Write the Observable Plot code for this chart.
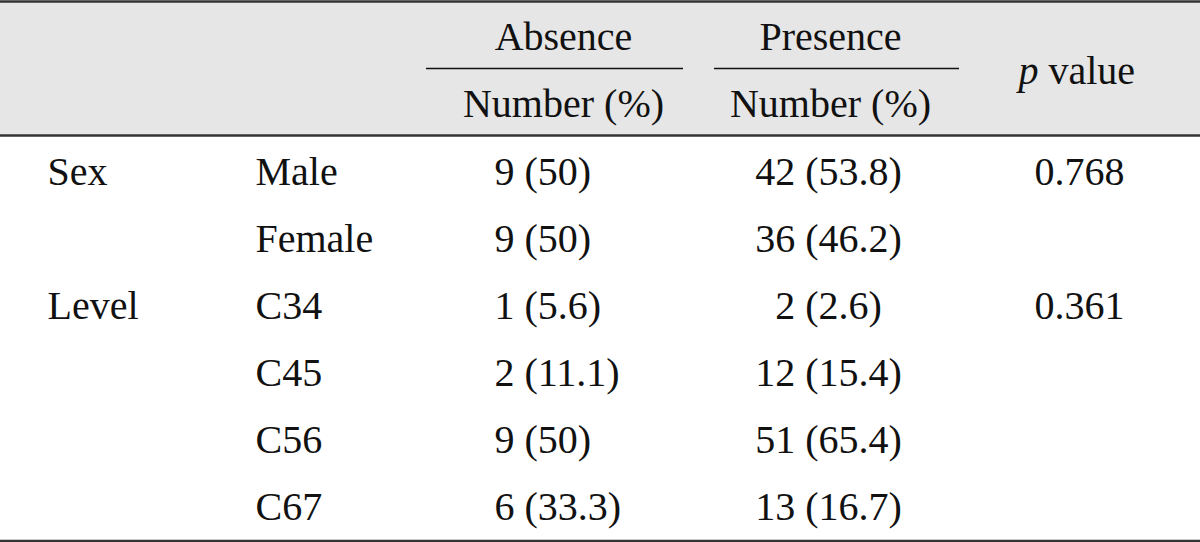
<!DOCTYPE html>
<html>
<head>
<meta charset="utf-8">
<script src="https://cdn.jsdelivr.net/npm/d3@7"></script>
<script src="https://cdn.jsdelivr.net/npm/@observablehq/plot@0.6"></script>
<style>
  html, body { margin: 0; padding: 0; background: #ffffff; }
  #chart svg { display: block; }
  #chart svg text { font-family: "Liberation Serif", "Times New Roman", "DejaVu Serif", serif !important; }
</style>
</head>
<body>
<div id="chart"></div>
<script>
// ---- Table data ----
const groupLabels   = ["Sex", "", "Level", "", "", ""];
const rowLabels     = ["Male", "Female", "C34", "C45", "C56", "C67"];
const absenceN      = [9, 9, 1, 2, 9, 6];
const absencePct    = ["50", "50", "5.6", "11.1", "50", "33.3"];
const presenceN     = [42, 36, 2, 12, 51, 13];
const presencePct   = ["53.8", "46.2", "2.6", "15.4", "65.4", "16.7"];
const pValues       = ["0.768", "", "0.361", "", "", ""];
const groupHeaders  = ["Absence", "Presence"];
const subHeader     = "Number (%)";
const pHeaderItalic = "p";
const pHeaderRest   = "value";

// ---- Layout (column anchors in x units, rows in row units) ----
const colGroup = 47, colLabel = 255, colAbsence = 494, colPresence = 828, colP = 1079;
const headerCenters = [563, 830];
const headerSpans = [[426, 683], [714, 959]];

const body = rowLabels.map((label, i) => ({
  row: i + 2,
  group: groupLabels[i],
  label,
  absence: `${absenceN[i]} (${absencePct[i]})`,
  presence: `${presenceN[i]} (${presencePct[i]})`,
  p: pValues[i]
}));
const headers = groupHeaders.map((h, i) => ({name: h, x: headerCenters[i], x1: headerSpans[i][0], x2: headerSpans[i][1]}));

const ff = "Liberation Serif, Times New Roman, DejaVu Serif, serif";
const fs = 40;
const T = {fontSize: fs, fontFamily: ff, fill: "#111"};

const chart = Plot.plot({
  width: 1200,
  height: 542,
  margin: 0,
  x: {type: "linear", domain: [0, 1200], range: [0, 1200], axis: null},
  y: {type: "linear", domain: [-0.551, 7.521], range: [0, 542], axis: null},
  style: {background: "#ffffff", color: "#111"},
  marks: [
    Plot.rect([0], {x1: 0, x2: 1200, y1: -0.53, y2: 1.46, fill: "#e6e6e6"}),
    Plot.ruleY([-0.535, 1.46, 7.5], {x1: 0, x2: 1200, stroke: "#333", strokeWidth: 2.5}),
    Plot.ruleY(headers, {y: 0.46, x1: "x1", x2: "x2", stroke: "#111", strokeWidth: 1.5}),
    Plot.text(headers, {x: "x", y: 0, text: "name", ...T}),
    Plot.text(headers, {x: "x", y: 1, text: () => subHeader, ...T}),
    Plot.text([0], {x: 1018, y: 0.5, text: () => pHeaderItalic, textAnchor: "start", fontStyle: "italic", ...T}),
    Plot.text([0], {x: 1048, y: 0.5, text: () => pHeaderRest, textAnchor: "start", ...T}),
    Plot.text(body, {x: colGroup, y: "row", text: "group", textAnchor: "start", ...T}),
    Plot.text(body, {x: colLabel, y: "row", text: "label", textAnchor: "start", ...T}),
    Plot.text(body, {x: colAbsence, y: "row", text: "absence", textAnchor: "start", ...T}),
    Plot.text(body, {x: colPresence, y: "row", text: "presence", textAnchor: "middle", ...T}),
    Plot.text(body, {x: colP, y: "row", text: "p", textAnchor: "middle", ...T})
  ]
});
document.getElementById("chart").appendChild(chart);
</script>
</body>
</html>
